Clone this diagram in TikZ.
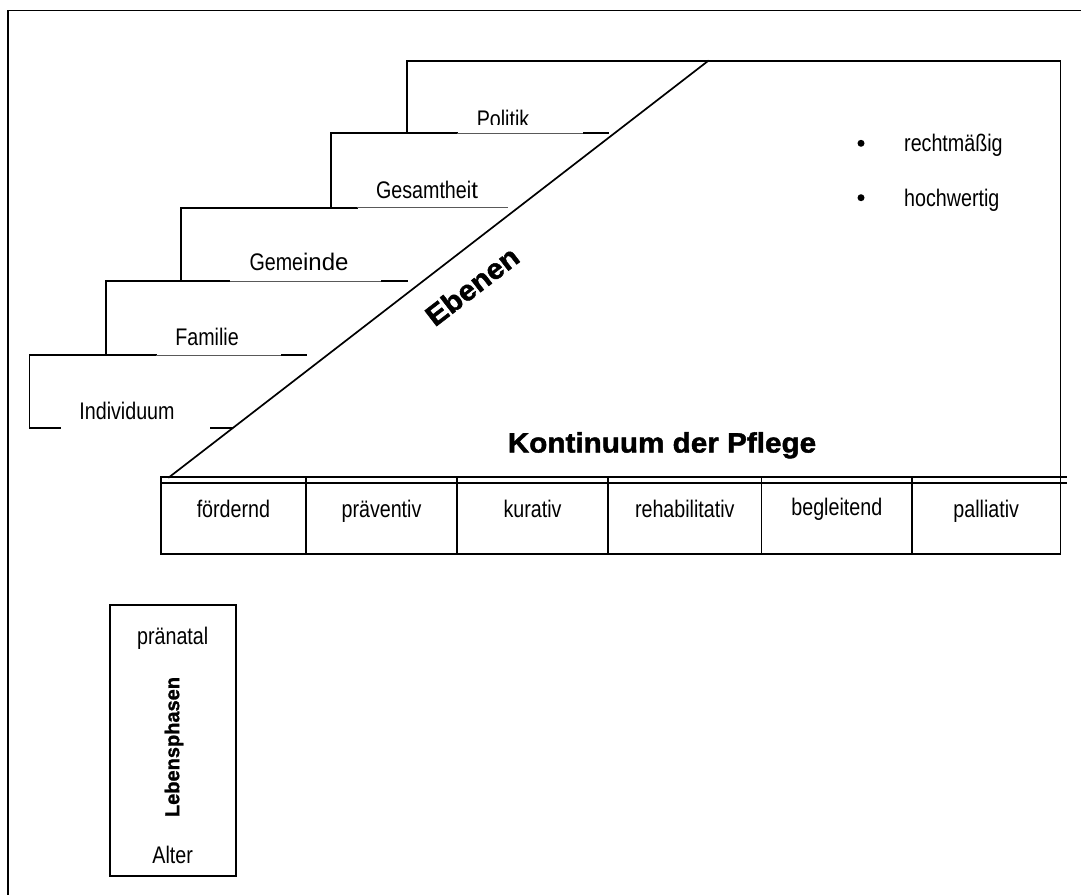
\documentclass[tikz,border=0pt]{standalone}
\usepackage{fontspec}
\setmainfont{Liberation Sans}[FakeStretch=0.82]
\newfontfamily\plainwide{Liberation Sans}
\newfontfamily\headfont{Liberation Sans}[FakeStretch=1.06, FakeBold=1.6]
\newfontfamily\sidefont{Liberation Sans}[FakeBold=1.2]
\begin{document}
\begin{tikzpicture}[x=1pt,y=-1pt,
  mainline/.style={line width=1.7pt, line cap=rect},
  guideline/.style={line width=0.8pt, black!65},
  lbl/.style={inner sep=0pt, anchor=base, font=\fontsize{24}{28}\selectfont},
  lblw/.style={lbl, anchor=base west},
  dot/.style={circle, fill=black, inner sep=0pt, minimum size=7pt}]
\useasboundingbox (0,0) rectangle (1081,894);

% outer frame (open to the right and bottom)
\draw[mainline] (8,894) -- (8,10.5) -- (1081,10.5);

% main field with the diagonal
\draw[mainline] (406.7,133.3) -- (406.7,61) -- (1060.5,61) -- (1060.5,477.3);
\draw[mainline] (169,477.3) -- (708,61);

% staircase of levels
\draw[mainline] (456.7,133.3) -- (331,133.3) -- (331,207.7);
\draw[guideline] (456.7,133.3) -- (584,133.3);
\draw[mainline] (584,133.3) -- (607.7,133.3);

\draw[mainline] (357,207.7) -- (180.7,207.7) -- (180.7,281);
\draw[guideline] (357,207.7) -- (507.7,207.7);

\draw[mainline] (229.6,281) -- (105.7,281) -- (105.7,355);
\draw[guideline] (229.6,281) -- (382,281);
\draw[mainline] (382,281) -- (407,281);

\draw[mainline] (156,355) -- (29.6,355) -- (29.6,428.3) -- (60,428.3);
\draw[guideline] (156,355) -- (282,355);
\draw[mainline] (282,355) -- (306.4,355);
\draw[mainline] (211,428.3) -- (232.5,428.3);

% level labels
\begin{scope}
  \clip (440,90) rectangle (570,124.5);
  \node[lbl] (politik) at (503,127) {Politik};
\end{scope}
\node[lbl] (gesamt) at (427,198) {Gesamthei{\plainwide t}};
\node[lbl] (gemeinde) at (299,270.7) {Geme{\plainwide inde}};
\node[lbl] (familie) at (207,345) {Familie};
\node[lbl] (indiv) at (127,419) {Individuum};

\node[inner sep=0pt, rotate=37.66, font=\headfont\bfseries\fontsize{28.5}{32}\selectfont] (ebenen) at (472,286) {Ebenen};

% quality criteria
\node[dot] (b1) at (861,143.3) {};
\node[dot] (b2) at (861,197.7) {};
\node[lblw] (recht) at (904,151.7) {rechtmäßig};
\node[lblw] (hoch) at (904,206) {hochwertig};

% continuum of care
\node[inner sep=0pt, anchor=base, font=\headfont\bfseries\fontsize{28}{32}\selectfont] (kont) at (662,452.5) {Kontinuum der Pflege};

\draw[mainline] (160.7,477.3) -- (1065.7,477.3);
\draw[mainline] (160.7,483.3) -- (1065.7,483.3);
\draw[mainline] (160.7,477.3) rectangle (1060.5,554);
\foreach \xc in {306,457,608,761.6,912}
  \draw[mainline] (\xc,477.3) -- (\xc,554);

\node[lbl] (c1) at (233.4,517) {fördernd};
\node[lbl] (c2) at (381.5,517) {präventiv};
\node[lbl] (c3) at (532.5,517) {kurativ};
\node[lbl] (c4) at (684.8,517) {rehabilitativ};
\node[lbl] (c5) at (836.8,515) {begleitend};
\node[lbl] (c6) at (986.2,517) {palliativ};

% life phases
\draw[mainline] (110,605) rectangle (236,876);
\node[lbl] (pre) at (172.7,644) {pränatal};
\node[lbl] (alt) at (172.7,863.3) {Alter};
\node[inner sep=0pt, rotate=90, font=\sidefont\bfseries\fontsize{20}{24}\selectfont] (leb) at (174,747) {Lebensphasen};
\end{tikzpicture}
\end{document}
